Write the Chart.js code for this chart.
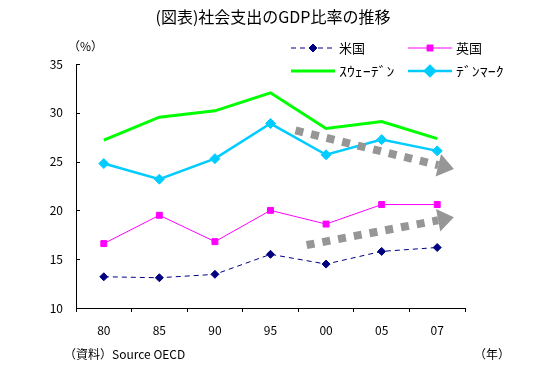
<!DOCTYPE html>
<html>
<head>
<meta charset="utf-8">
<script src="https://cdn.jsdelivr.net/npm/chart.js@4.4.1/dist/chart.umd.min.js"></script>
<style>
  html, body { margin: 0; padding: 0; background: #fff; }
  #wrap { width: 560px; height: 367px; }
</style>
</head>
<body>
<div id="wrap"><canvas id="grafico"></canvas></div>
<script>
const anios = ["80", "85", "90", "95", "00", "05", "07"];
const usa = [13.2, 13.1, 13.45, 15.5, 14.5, 15.8, 16.2];
const uk = [16.6, 19.5, 16.8, 20.0, 18.6, 20.6, 20.6];
const suecia = [27.2, 29.55, 30.2, 32.05, 28.4, 29.1, 27.35];
const dinamarca = [24.8, 23.2, 25.3, 28.9, 25.7, 27.25, 26.1];
const nombres = ["米国", "英国", "ｽｳｪｰﾃﾞﾝ", "ﾃﾞﾝﾏｰｸ"];

// flechas grises (indice de categoria, valor)
const flechas = [
  { desde: [3.45, 28.2], hasta: [6.3, 24.24] },
  { desde: [3.65, 16.45], hasta: [6.3, 19.29] },
];

const FUENTE = '"Noto Sans CJK JP", "DejaVu Sans", sans-serif';

// titulo, leyenda, notas y flechas
const extras = {
  id: "extras",
  afterDatasetsDraw(chart) {
    const { ctx, scales } = chart;
    ctx.save();
    ctx.fillStyle = "#969696";
    ctx.strokeStyle = "#969696";
    flechas.forEach((f) => {
      const x1 = scales.x.getPixelForValue(f.desde[0]);
      const y1 = scales.y.getPixelForValue(f.desde[1]);
      const x2 = scales.x.getPixelForValue(f.hasta[0]);
      const y2 = scales.y.getPixelForValue(f.hasta[1]);
      const ang = Math.atan2(y2 - y1, x2 - x1);
      const largo = 16, ancho = 23;
      const bx = x2 - largo * Math.cos(ang);
      const by = y2 - largo * Math.sin(ang);
      ctx.lineWidth = 8;
      ctx.lineCap = "butt";
      ctx.setLineDash([8, 8]);
      ctx.beginPath();
      ctx.moveTo(x1, y1);
      ctx.lineTo(bx, by);
      ctx.stroke();
      ctx.setLineDash([]);
      const px = -Math.sin(ang), py = Math.cos(ang);
      ctx.beginPath();
      ctx.moveTo(x2, y2);
      ctx.lineTo(bx + px * ancho / 2, by + py * ancho / 2);
      ctx.lineTo(bx - px * ancho / 2, by - py * ancho / 2);
      ctx.closePath();
      ctx.fill();
    });
    ctx.restore();
  },
  afterDraw(chart) {
    const { ctx, scales, chartArea } = chart;
    ctx.save();
    // ticks hacia adentro del eje y
    ctx.strokeStyle = "#000";
    ctx.lineWidth = 1;
    scales.y.ticks.forEach((t) => {
      const y = Math.round(scales.y.getPixelForValue(t.value)) + 0.5;
      ctx.beginPath();
      ctx.moveTo(chartArea.left, y);
      ctx.lineTo(chartArea.left + 4, y);
      ctx.stroke();
    });

    ctx.fillStyle = "#000";
    ctx.textBaseline = "middle";
    ctx.textAlign = "center";
    ctx.font = "16px " + FUENTE;
    ctx.fillText("(図表)社会支出のGDP比率の推移", 273, 17);

    ctx.font = "12px " + FUENTE;
    ctx.textAlign = "left";
    ctx.fillText("（%）", 68, 46);
    ctx.fillText("（資料）Source OECD", 64, 354);
    ctx.fillText("（年）", 474, 354);

    // leyenda
    const pos = [
      [291, 48], [408, 48], [291, 71], [408, 71],
    ];
    chart.data.datasets.forEach((ds, i) => {
      const [x, y] = pos[i];
      ctx.strokeStyle = ds.borderColor;
      ctx.lineWidth = ds.borderWidth;
      ctx.setLineDash(ds.borderDash || []);
      ctx.beginPath();
      ctx.moveTo(x, y);
      ctx.lineTo(x + 44, y);
      ctx.stroke();
      ctx.setLineDash([]);
      if (ds.pointRadius > 0) {
        ctx.fillStyle = ds.pointBackgroundColor;
        ctx.strokeStyle = ds.pointBackgroundColor;
        Chart.helpers.drawPoint(ctx, {
          pointStyle: ds.pointStyle,
          radius: ds.pointRadius,
          borderWidth: 1,
        }, x + 22, y);
      }
      ctx.fillStyle = "#000";
      ctx.font = "13px " + FUENTE;
      // katakana de medio ancho un poco mas ancha, como en el original
      const estirar = i >= 2 ? 1.22 : 1;
      ctx.save();
      ctx.translate(x + 48, y);
      ctx.scale(estirar, 1);
      ctx.fillText(ds.label, 0, 0);
      ctx.restore();
    });
    ctx.restore();
  },
};

const ctxGrafico = document.getElementById("grafico");

new Chart(ctxGrafico, {
  type: "line",
  data: {
    labels: anios,
    datasets: [
      {
        label: nombres[0],
        data: usa,
        borderColor: "#000080",
        borderWidth: 1,
        borderDash: [5, 4],
        pointStyle: "rectRot",
        pointRadius: 4,
        pointBackgroundColor: "#000080",
        pointBorderColor: "#000080",
        pointBorderWidth: 1,
      },
      {
        label: nombres[1],
        data: uk,
        borderColor: "#FF00FF",
        borderWidth: 1,
        pointStyle: "rect",
        pointRadius: 4.2,
        pointBackgroundColor: "#FF00FF",
        pointBorderColor: "#FF00FF",
        pointBorderWidth: 1,
      },
      {
        label: nombres[2],
        data: suecia,
        borderColor: "#00FF00",
        borderWidth: 3,
        pointRadius: 0,
      },
      {
        label: nombres[3],
        data: dinamarca,
        borderColor: "#00CCFF",
        borderWidth: 2.5,
        pointStyle: "rectRot",
        pointRadius: 5,
        pointBackgroundColor: "#00CCFF",
        pointBorderColor: "#00CCFF",
        pointBorderWidth: 1,
      },
    ],
  },
  options: {
    responsive: true,
    maintainAspectRatio: false,
    animation: false,
    layout: { padding: { top: 64, right: 95, bottom: 0, left: 0 } },
    plugins: {
      legend: { display: false },
      title: { display: false },
      tooltip: { enabled: false },
    },
    scales: {
      x: {
        offset: true,
        afterFit: (s) => { s.height = 59; },
        grid: {
          offset: true,
          drawOnChartArea: false,
          drawTicks: true,
          tickLength: 4,
          color: "#000",
        },
        border: { display: true, color: "#000" },
        ticks: {
          color: "#000",
          padding: 11,
          maxRotation: 0,
          font: { family: FUENTE, size: 12 },
        },
      },
      y: {
        min: 10,
        max: 35,
        afterFit: (s) => { s.width = 76; },
        grid: { drawOnChartArea: false, drawTicks: false },
        border: { display: true, color: "#000" },
        ticks: {
          stepSize: 5,
          color: "#000",
          padding: 13,
          font: { family: FUENTE, size: 12 },
        },
      },
    },
  },
  plugins: [extras],
});
</script>
</body>
</html>
